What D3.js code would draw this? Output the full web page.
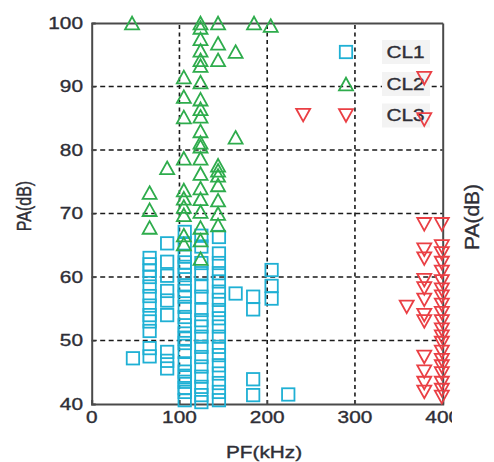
<!DOCTYPE html>
<html>
<head>
<meta charset="utf-8">
<script src="https://cdn.jsdelivr.net/npm/d3@7"></script>
<style>
  html, body { margin: 0; padding: 0; background: #ffffff; }
  svg { display: block; }
  text { font-family: "Liberation Sans", Arial, sans-serif; fill: #2e2e36; stroke: #2e2e36; stroke-width: 0.35px; }
</style>
</head>
<body>
<svg id="chart" width="494" height="462"></svg>
<script>
// ---- Data ----
const xTicks = [0, 100, 200, 300, 400];
const yTicks = [40, 50, 60, 70, 80, 90, 100];
const seriesNames = ["CL1", "CL2", "CL3"];

// CL1 (squares): PF columns with PA values
const cl1Columns = [
  { pf: 47,  pa: [47.2] },
  { pf: 66,  pa: [63, 62, 61, 60, 58.5, 57, 55.5, 54, 53, 51.5, 48.8, 47.5] },
  { pf: 86,  pa: [65.3, 62.4, 60.2, 57.8, 56.3, 54, 48.2, 46.8, 45.6] },
  { pf: 106, pa: [67.1, 65.3, 63.2, 62.3, 61.6, 60.3, 58.7, 57.8, 56.9, 55.3, 53.7, 52.4, 51.1, 50.3, 49.6, 48.2, 46.4, 45.1, 44.2, 43.5, 42.5, 41.9, 40.6] },
  { pf: 125, pa: [66.5, 64.8, 62.2, 60.6, 58.5, 56.9, 54.8, 53.2, 52.2, 50.6, 49.0, 47.4, 45.9, 44.3, 42.7, 41.4, 40.3] },
  { pf: 145, pa: [66.3, 63.7, 62.2, 60.6, 59.3, 57.7, 56.4, 54.8, 53.5, 52.2, 50.6, 49.0, 47.7, 46.1, 44.8, 43.3, 41.9, 40.6] },
  { pf: 164, pa: [57.4] },
  { pf: 184, pa: [56.9, 54.9, 43.9, 41.4] },
  { pf: 205, pa: [61.1, 58.6, 56.6] },
  { pf: 224, pa: [41.5] }
];

// CL2 (upward triangles)
const cl2Columns = [
  { pf: 46,  pa: [100] },
  { pf: 66,  pa: [73.3, 70.6, 67.8] },
  { pf: 86,  pa: [77.2] },
  { pf: 105, pa: [91.5, 88.4, 85.2, 78.7, 73.7, 72.4, 71.1, 69.8, 66.6, 65.2] },
  { pf: 124, pa: [100, 99.3, 97.5, 95.7, 94.2, 93.3, 90.7, 88, 86.5, 85.3, 83, 81.2, 80.6, 78.7, 76.3, 74, 72.3, 70.3, 67.8, 65.8, 62.9] },
  { pf: 144, pa: [100, 96.8, 94.2, 77.6, 76.8, 76, 74.5, 72.1, 70, 68.2] },
  { pf: 164, pa: [95.5, 82] },
  { pf: 185, pa: [100] },
  { pf: 204, pa: [99.6] }
];

// CL3 (downward triangles)
const cl3Columns = [
  { pf: 241, pa: [85.5] },
  { pf: 359, pa: [55.3] },
  { pf: 379, pa: [91.3, 84.8, 68.3, 64.3, 62.9, 59.5, 58.2, 56.4, 54, 53, 47.4, 45.1, 43.3, 41.9] },
  { pf: 399, pa: [68.3, 64.8, 63.7, 62.2, 60.8, 59.3, 58, 56.9, 55.6, 54.3, 53, 51.7, 50.6, 49.6, 48.2, 46.9, 45.9, 44.8, 43.3, 42.2, 41.1] }
];

// ---- Drawing ----
const svg = d3.select("#chart");
const x = d3.scaleLinear().domain([0, 400]).range([91.7, 442.7]);
const y = d3.scaleLinear().domain([40, 100]).range([404, 23]);

const flatten = cols => cols.flatMap(c => c.pa.map(v => ({ pf: c.pf, pa: v })));

const colors = { CL1: "#1fb0d4", CL2: "#2eac4c", CL3: "#ea3f44" };

// clip for the right-most x label (cut in reference)
svg.append("defs").append("clipPath").attr("id", "labclip")
  .append("rect").attr("x", 0).attr("y", 0).attr("width", 452).attr("height", 462);

// grid
const grid = svg.append("g");
grid.selectAll("line.gy").data(yTicks.filter(t => t > 40 && t < 100)).join("line")
  .attr("x1", x(0)).attr("x2", x(400)).attr("y1", d => y(d)).attr("y2", d => y(d))
  .attr("stroke", "#1a1a1a").attr("stroke-width", 1.6).attr("stroke-dasharray", "5,3.5");
grid.selectAll("line.gx").data(xTicks.filter(t => t > 0 && t < 400)).join("line")
  .attr("y1", y(40)).attr("y2", y(100)).attr("x1", d => x(d)).attr("x2", d => x(d))
  .attr("stroke", "#1a1a1a").attr("stroke-width", 1.6).attr("stroke-dasharray", "4,3.5");

// axes box via d3 axes
const axL = d3.axisLeft(y).tickValues(yTicks).tickSize(-4).tickFormat("");
const axB = d3.axisBottom(x).tickValues(xTicks).tickSize(-4).tickFormat("");
const axT = d3.axisTop(x).tickValues([]).tickSize(0);
const axR = d3.axisRight(y).tickValues([]).tickSize(0);
[[axL, `translate(${x(0)},0)`], [axB, `translate(0,${y(40)})`],
 [axT, `translate(0,${y(100)})`], [axR, `translate(${x(400)},0)`]].forEach(([ax, tr]) => {
  const g = svg.append("g").attr("transform", tr).call(ax);
  g.select(".domain").attr("stroke", "#4a4a4a").attr("stroke-width", 2);
  g.selectAll(".tick line").attr("stroke", "#4a4a4a").attr("stroke-width", 1.2);
});

// tick labels
svg.append("g").selectAll("text").data(yTicks).join("text")
  .attr("transform", d => `translate(83,${y(d)}) scale(1.3,1)`)
  .attr("text-anchor", "end").attr("dy", "0.35em")
  .style("font-size", "16px").text(d => d);
svg.append("g").attr("clip-path", "url(#labclip)").selectAll("text").data(xTicks).join("text")
  .attr("transform", d => `translate(${x(d)},417) scale(1.3,1)`)
  .attr("text-anchor", "middle").attr("dy", "0.35em")
  .style("font-size", "16px").text(d => d);

// axis titles
svg.append("text").attr("transform", "translate(264,452) scale(1.3,1)")
  .attr("text-anchor", "middle").attr("dy", "0.35em").style("font-size", "16px").text("PF(kHz)");
svg.append("text").attr("transform", "translate(24,206) rotate(-90) scale(1,1.3)")
  .attr("text-anchor", "middle").attr("dy", "0.35em").style("font-size", "16px").text("PA(dB)");
svg.append("text").attr("transform", "translate(471.5,217) rotate(-90)")
  .attr("text-anchor", "middle").attr("dy", "0.35em").style("font-size", "21px").text("PA(dB)");

// marker shapes
const sq = 6.2;
const triUp = "M0,-6.3L7,6.3L-7,6.3Z";
const triDown = "M0,6.3L7,-6.3L-7,-6.3Z";

const marks = svg.append("g").attr("fill", "none").attr("stroke-width", 1.8);

marks.append("g").attr("stroke", colors.CL1).selectAll("rect").data(flatten(cl1Columns)).join("rect")
  .attr("x", d => x(d.pf) - sq).attr("y", d => y(d.pa) - sq)
  .attr("width", 2 * sq).attr("height", 2 * sq);

marks.append("g").attr("stroke", colors.CL2).selectAll("path").data(flatten(cl2Columns)).join("path")
  .attr("d", triUp).attr("transform", d => `translate(${x(d.pf)},${y(d.pa)})`);

// legend (drawn before CL3 so CL3 points overlap it as in the reference)
const legend = svg.append("g");
const legY = [52, 84, 115.5];
const legX = 346;
legend.selectAll("rect.bg").data(seriesNames).join("rect")
  .attr("x", 382).attr("y", (d, i) => legY[i] - 12).attr("width", 48).attr("height", 24)
  .attr("fill", "#f3f3f3");
legend.selectAll("text").data(seriesNames).join("text")
  .attr("transform", (d, i) => `translate(386.5,${legY[i]}) scale(1.3,1)`)
  .attr("dy", "0.35em").style("font-size", "16px").text(d => d);
legend.append("rect").attr("x", legX - sq).attr("y", legY[0] - sq).attr("width", 2 * sq).attr("height", 2 * sq)
  .attr("fill", "none").attr("stroke", colors.CL1).attr("stroke-width", 1.8);
legend.append("path").attr("d", triUp).attr("transform", `translate(${legX},${legY[1]})`)
  .attr("fill", "none").attr("stroke", colors.CL2).attr("stroke-width", 1.8);
legend.append("path").attr("d", triDown).attr("transform", `translate(${legX},${legY[2]})`)
  .attr("fill", "none").attr("stroke", colors.CL3).attr("stroke-width", 1.8);

svg.append("g").attr("fill", "none").attr("stroke-width", 1.8).attr("stroke", colors.CL3)
  .selectAll("path").data(flatten(cl3Columns)).join("path")
  .attr("d", triDown).attr("transform", d => `translate(${x(d.pf)},${y(d.pa)})`);
</script>
</body>
</html>
